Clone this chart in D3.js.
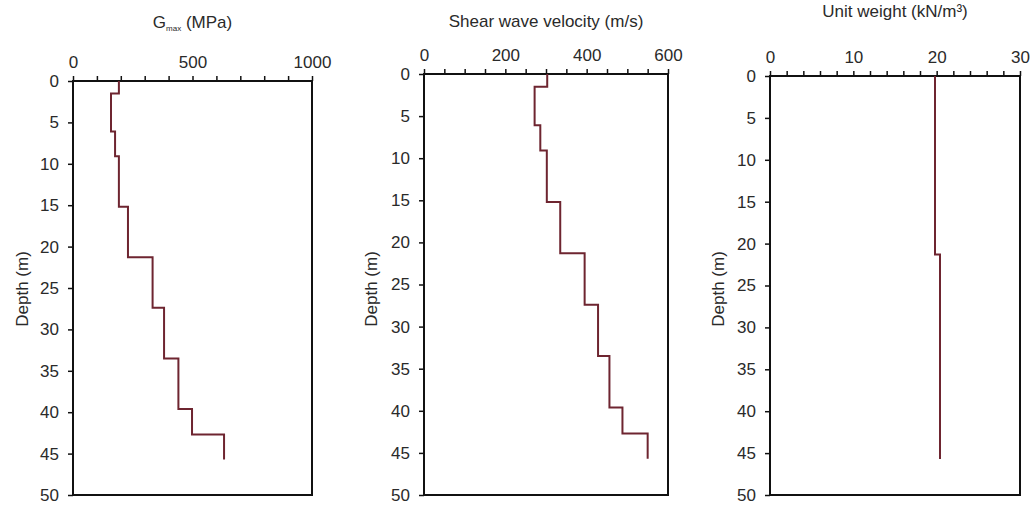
<!DOCTYPE html>
<html>
<head>
<meta charset="utf-8">
<script src="https://cdn.jsdelivr.net/npm/d3@7"></script>
<style>
  body { margin: 0; background: #fff; }
  svg { display: block; font-family: "Liberation Sans", Arial, sans-serif; }
  .axis text { font-size: 17px; fill: #2a2a2a; }
  .axis line { stroke: #111; stroke-width: 1.5; }
  .axis path { display: none; }
</style>
</head>
<body>
<div id="chart"></div>
<script>
// layer boundaries (m), one more than the values in each profile
var layerDepths = [0, 1.5, 6.1, 9.1, 15.2, 21.3, 27.4, 33.5, 39.6, 42.7, 45.7];
var gmaxValues = [192, 159, 176, 192, 230, 333, 381, 441, 498, 632];
var vsValues = [303, 272, 286, 302, 335, 395, 428, 456, 488, 550];
var unitWeightValues = [19.8, 19.8, 19.8, 19.8, 19.8, 20.4, 20.4, 20.4, 20.4, 20.4];
var depthTicks = [0, 5, 10, 15, 20, 25, 30, 35, 40, 45, 50];

var W = 1033, H = 505;
var svg = d3.select('#chart').append('svg')
  .attr('width', W)
  .attr('height', H);

var panels = [
  { values: gmaxValues, max: 1000, minor: 100, major: 500,
    left: 73, right: 312, top: 81, titleY: 28, ylabX: 22 },
  { values: vsValues, max: 600, minor: 50, major: 200,
    left: 424, right: 668, top: 74, titleY: 27, ylabX: 371,
    title: 'Shear wave velocity (m/s)' },
  { values: unitWeightValues, max: 30, minor: 2, major: 10,
    left: 770, right: 1020, top: 76, titleY: 17, ylabX: 718,
    title: 'Unit weight (kN/m\u00b3)' }
];
var bottom = 495;

panels.forEach(function (p, k) {
  var x = d3.scaleLinear().domain([0, p.max]).range([p.left, p.right]);
  var y = d3.scaleLinear().domain([0, 50]).range([p.top, bottom]);
  var g = svg.append('g');

  // top axis, labelled only at the major steps
  var minorTicks = d3.range(0, p.max + p.minor / 2, p.minor);
  g.append('g')
    .attr('class', 'axis')
    .attr('transform', 'translate(0,' + p.top + ')')
    .call(d3.axisTop(x)
      .tickValues(minorTicks)
      .tickSize(5)
      .tickPadding(8)
      .tickFormat(function (d) {
        return Math.abs(d / p.major - Math.round(d / p.major)) < 1e-6 ? d : '';
      }));

  g.append('g')
    .attr('class', 'axis')
    .attr('transform', 'translate(' + p.left + ',0)')
    .call(d3.axisLeft(y)
      .tickValues(depthTicks)
      .tickSize(5)
      .tickPadding(9));

  // plot frame
  g.append('rect')
    .attr('x', p.left)
    .attr('y', p.top)
    .attr('width', p.right - p.left)
    .attr('height', bottom - p.top)
    .attr('fill', 'none')
    .attr('stroke', '#111')
    .attr('stroke-width', 2);

  // step profile: each layer is a vertical segment
  var pts = [];
  p.values.forEach(function (v, i) {
    pts.push([v, layerDepths[i]]);
    pts.push([v, layerDepths[i + 1]]);
  });
  var line = d3.line()
    .x(function (d) { return x(d[0]); })
    .y(function (d) { return y(d[1]); });
  g.append('path')
    .datum(pts)
    .attr('d', line)
    .attr('fill', 'none')
    .attr('stroke', '#6e2530')
    .attr('stroke-width', 2);

  // title
  var cx = (p.left + p.right) / 2;
  var t = g.append('text')
    .attr('x', cx)
    .attr('y', p.titleY)
    .attr('text-anchor', 'middle')
    .style('font-size', '17px')
    .style('fill', '#2a2a2a');
  if (k === 0) {
    t.append('tspan').text('G');
    t.append('tspan').text('max').style('font-size', '8px').attr('dy', 3);
    t.append('tspan').text(' (MPa)').attr('dy', -3);
  } else {
    t.text(p.title);
  }

  // depth label
  var cy = 289;
  g.append('text')
    .attr('transform', 'translate(' + (p.ylabX + 6) + ',' + cy + ') rotate(-90)')
    .attr('text-anchor', 'middle')
    .style('font-size', '17px')
    .style('fill', '#2a2a2a')
    .text('Depth (m)');
});
</script>
</body>
</html>
